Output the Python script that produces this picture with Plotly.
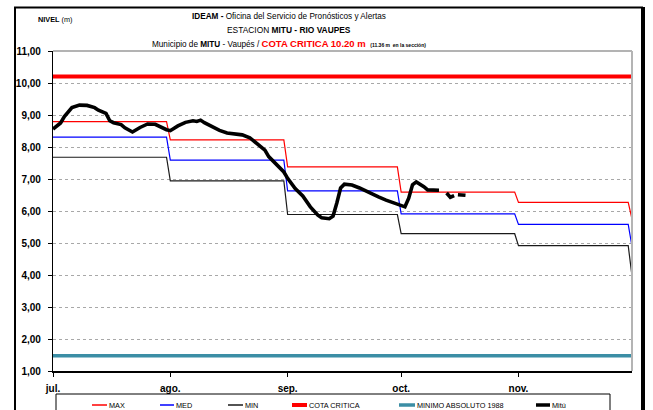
import plotly.graph_objects as go

# ---- data -------------------------------------------------------------
month_starts = ["2014-07-01", "2014-08-01", "2014-09-01", "2014-10-01", "2014-11-01"]
month_ends = ["2014-07-31", "2014-08-31", "2014-09-30", "2014-10-31", "2014-11-30"]
season_end = "2014-12-01"
month_labels = ["jul.", "ago.", "sep.", "oct.", "nov."]

max_levels = [8.79, 8.22, 7.38, 6.59, 6.27]
max_end = 5.75
med_levels = [8.31, 7.59, 6.63, 5.91, 5.58]
med_end = 4.89
min_levels = [7.68, 6.94, 5.89, 5.29, 4.92]
min_end = 3.96

cota_critica = 10.20
minimo_absoluto = 1.48

mitu_dates = [
    "2014-07-01", "2014-07-03", "2014-07-04", "2014-07-05", "2014-07-06", "2014-07-08",
    "2014-07-10", "2014-07-12", "2014-07-13", "2014-07-15", "2014-07-16", "2014-07-17",
    "2014-07-19", "2014-07-20", "2014-07-22", "2014-07-24", "2014-07-26", "2014-07-28",
    "2014-07-29", "2014-07-31",
    "2014-08-01", "2014-08-03", "2014-08-05", "2014-08-07", "2014-08-08", "2014-08-09",
    "2014-08-10", "2014-08-12", "2014-08-14", "2014-08-16", "2014-08-18", "2014-08-20",
    "2014-08-22", "2014-08-24", "2014-08-26", "2014-08-27", "2014-08-29", "2014-08-31",
    "2014-09-01", "2014-09-03", "2014-09-05", "2014-09-07", "2014-09-09", "2014-09-10",
    "2014-09-12", "2014-09-13", "2014-09-14", "2014-09-15", "2014-09-16", "2014-09-18",
    "2014-09-20", "2014-09-22", "2014-09-25", "2014-09-27", "2014-09-30",
    "2014-10-02", "2014-10-03", "2014-10-04", "2014-10-05", "2014-10-06", "2014-10-07",
    "2014-10-08", "2014-10-10", "2014-10-11", "2014-10-12", "2014-10-13", "2014-10-14",
    "2014-10-15", "2014-10-15 12:00", "2014-10-16", "2014-10-17", "2014-10-18",
]
mitu_values = [
    8.56, 8.75, 8.95, 9.11, 9.23, 9.31, 9.30, 9.23, 9.15, 9.05, 8.82, 8.76,
    8.70, 8.60, 8.47, 8.61, 8.72, 8.71, 8.65, 8.54,
    8.51, 8.66, 8.77, 8.82, 8.80, 8.84, 8.76, 8.63, 8.52, 8.44, 8.41, 8.38,
    8.29, 8.11, 7.90, 7.70, 7.46, 7.22,
    7.02, 6.70, 6.47, 6.13, 5.87, 5.79, 5.76, 5.84, 6.25, 6.72, 6.84, 6.81,
    6.72, 6.60, 6.44, 6.34, 6.22,
    6.13, 6.40, 6.82, 6.91, 6.85, 6.76, 6.66, 6.64, 6.65, None, 6.56, 6.43,
    6.48, None, 6.51, 6.51, 6.49,
]

# ---- geometry helpers ---------------------------------------------------
W, H = 653, 410
ML, MR, MT, MB = 53, 21, 51, 39
PW, PH = W - ML - MR, H - MT - MB


def xp(px):
    return (px - ML) / PW


def yp(py):
    return (H - MB - py) / PH


def monthly_steps(levels, end_value):
    xs, ys = [], []
    for start, stop, lvl in zip(month_starts, month_ends, levels):
        xs += [start, stop]
        ys += [lvl, lvl]
    xs.append(season_end)
    ys.append(end_value)
    return xs, ys


FONT = "Liberation Sans, Arial, sans-serif"
RED, BLUE, BLACK, TEAL = "#ff0000", "#0000ff", "#1a1a1a", "#3b8ea5"

fig = go.Figure()

for levels, end_value, color, name in [
    (max_levels, max_end, RED, "MAX"),
    (med_levels, med_end, BLUE, "MED"),
    (min_levels, min_end, BLACK, "MIN"),
]:
    sx, sy = monthly_steps(levels, end_value)
    fig.add_trace(go.Scatter(x=sx, y=sy, mode="lines", name=name,
                             line=dict(color=color, width=1.2)))

fig.add_trace(go.Scatter(x=[month_starts[0], season_end], y=[cota_critica] * 2,
                         mode="lines", name="COTA CRITICA",
                         line=dict(color=RED, width=4)))
fig.add_trace(go.Scatter(x=[month_starts[0], season_end], y=[minimo_absoluto] * 2,
                         mode="lines", name="MINIMO ABSOLUTO 1988",
                         line=dict(color=TEAL, width=3.5)))
fig.add_trace(go.Scatter(x=mitu_dates, y=mitu_values, mode="lines", name="Mitú",
                         connectgaps=False,
                         line=dict(color="black", width=3.6)))

fig.update_layout(
    width=W, height=H,
    margin=dict(l=ML, r=MR, t=MT, b=MB),
    paper_bgcolor="white", plot_bgcolor="white",
    showlegend=False,
    separators=",.",
    font=dict(family=FONT, color="black"),
)

fig.update_xaxes(
    type="date", range=[month_starts[0], season_end],
    tickvals=month_starts, ticktext=month_labels,
    tickfont=dict(size=10, family=FONT, weight="bold"),
    showgrid=False, showline=True, linecolor="black", linewidth=1.5,
    ticks="outside", ticklen=4, tickcolor="black", ticklabelstandoff=3,
    zeroline=False,
)
fig.update_yaxes(
    range=[1, 11], dtick=1, tick0=1, tickformat=".2f",
    tickfont=dict(size=10, family=FONT, weight="bold"),
    showgrid=True, gridcolor="#a8a8a8", griddash="dot", gridwidth=1,
    showline=True, linecolor="black", linewidth=1.2,
    ticks="outside", ticklen=4, tickcolor="black", ticklabelstandoff=5,
    zeroline=False,
)

shapes = []
# plot-area border (top and right, grey)
shapes.append(dict(type="line", xref="paper", yref="paper", x0=0, x1=1, y0=1, y1=1,
                   line=dict(color="#9a9a9a", width=1.5)))
shapes.append(dict(type="line", xref="paper", yref="paper", x0=1, x1=1, y0=0, y1=1,
                   line=dict(color="#b4b4b4", width=2)))
# outer frame
shapes.append(dict(type="rect", xref="paper", yref="paper",
                   x0=xp(15), x1=xp(642), y0=yp(414), y1=yp(7.5),
                   line=dict(color="black", width=2)))
shapes.append(dict(type="line", xref="paper", yref="paper",
                   x0=xp(643.5), x1=xp(643.5), y0=yp(414), y1=yp(7),
                   line=dict(color="black", width=3)))
# legend box
shapes.append(dict(type="rect", xref="paper", yref="paper",
                   x0=xp(56), x1=xp(610), y0=yp(416), y1=yp(394),
                   line=dict(color="black", width=1)))

annotations = []
legend_items = [
    ("MAX", 92, 107, RED, 1.5),
    ("MED", 160, 174, BLUE, 1.5),
    ("MIN", 228, 243, BLACK, 1.5),
    ("COTA CRITICA", 292, 307, RED, 4),
    ("MINIMO ABSOLUTO 1988", 399, 415, TEAL, 3.5),
    ("Mitú", 536, 550, "black", 3.5),
]
for label, x0, x1, color, lw in legend_items:
    shapes.append(dict(type="line", xref="paper", yref="paper",
                       x0=xp(x0), x1=xp(x1), y0=yp(405), y1=yp(405),
                       line=dict(color=color, width=lw)))
    annotations.append(dict(xref="paper", yref="paper", x=xp(x1), y=yp(405),
                            text=label, showarrow=False, xanchor="left", yanchor="middle",
                            font=dict(size=7.3, family=FONT, color="black")))

# titles
annotations.append(dict(xref="paper", yref="paper", x=xp(289), y=yp(16.5),
                        text="<b>IDEAM -</b> Oficina del Servicio de Pronósticos y Alertas",
                        showarrow=False, xanchor="center", yanchor="middle",
                        font=dict(size=8.2, family=FONT)))
annotations.append(dict(xref="paper", yref="paper", x=xp(289), y=yp(30),
                        text="ESTACION <b>MITU - RIO VAUPES</b>",
                        showarrow=False, xanchor="center", yanchor="middle",
                        font=dict(size=8.4, family=FONT)))
annotations.append(dict(xref="paper", yref="paper", x=xp(289), y=yp(43),
                        text=("Municipio de <b>MITU</b> - Vaupés / "
                              "<b><span style='color:#ff0000;font-size:9.5px'>COTA CRITICA 10.20 m</span></b>"
                              "  <b><span style='font-size:5px'>(11.36 m  en la sección)</span></b>"),
                        showarrow=False, xanchor="center", yanchor="middle",
                        font=dict(size=8.2, family=FONT)))
annotations.append(dict(xref="paper", yref="paper", x=xp(36), y=yp(20),
                        text="<b>NIVEL</b> (m)", showarrow=False,
                        xanchor="left", yanchor="middle",
                        font=dict(size=7.3, family=FONT)))

fig.update_layout(shapes=shapes, annotations=annotations)

fig.write_html("out.html")
